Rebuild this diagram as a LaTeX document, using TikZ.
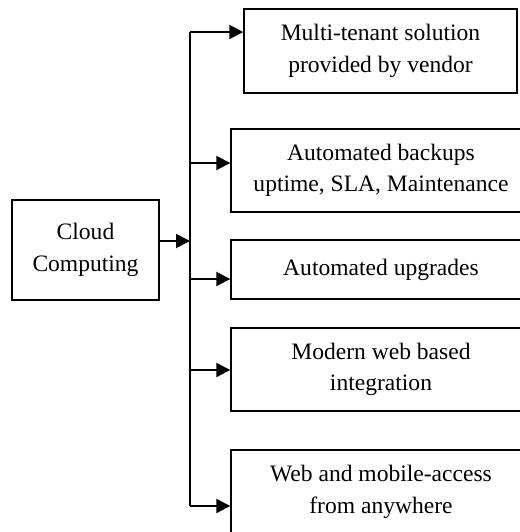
\documentclass[tikz,border=0pt]{standalone}
\usepackage{fontspec}
\setmainfont{Liberation Serif}
\usepackage{tikz}
\usetikzlibrary{arrows.meta,positioning,calc}
\tikzstyle{block} = [draw, line width=0.8pt, fill=white, rectangle, align=center,
font=\fontsize{13.4}{18}\selectfont, minimum height=1.66cm, minimum width=6cm, inner sep=0pt]
\tikzstyle{link} = [line width=1.1pt, -{Triangle[length=0.28cm,width=0.28cm]}]

\begin{document}
\begin{tikzpicture}
	\useasboundingbox (0,0) rectangle (10.4,-10.64);
	\begin{scope}
	\clip (0,0) rectangle (10.4,-10.64);
	\node [block, minimum width=2.94cm, minimum height=2cm] (Cloud) at (1.71,-5) {Cloud\\Computing};
	\node [block, minimum width=5.46cm, minimum height=1.68cm] (MultiTenant) at (7.61,-1.02) {Multi-tenant solution\\provided by vendor};
	\node [block] (Backups) at (7.62,-3.41) {Automated backups\\uptime, SLA, Maintenance};
	\node [block, minimum height=1.18cm] (Upgrades) at (7.62,-5.39) {Automated upgrades};
	\node [block] (Integration) at (7.62,-7.39) {Modern web based\\integration};
	\node [block, minimum height=1.68cm] (Access) at (7.62,-9.84) {Web and mobile-access\\from anywhere};
	\end{scope}
	
	\coordinate (Hub) at (3.8,-4.82);
	\coordinate (Branch1) at (3.8,-0.64);
	\coordinate (Branch2) at (3.8,-3.26);
	\coordinate (Branch3) at (3.8,-5.58);
	\coordinate (Branch4) at (3.8,-7.40);
	\coordinate (Branch5) at (3.8,-10.12);
	
	\draw [link] (Cloud.east |- Hub) -- (Hub);
	\draw [line width=1.1pt] (Branch1) -- (Branch5);
	\draw [link] (Branch1) -- (Branch1 -| MultiTenant.west);
	\draw [link] (Branch2) -- (Branch2 -| Backups.west);
	\draw [link] (Branch3) -- (Branch3 -| Upgrades.west);
	\draw [link] (Branch4) -- (Branch4 -| Integration.west);
	\draw [link] (Branch5) -- (Branch5 -| Access.west);
	
\end{tikzpicture}
\end{document}
